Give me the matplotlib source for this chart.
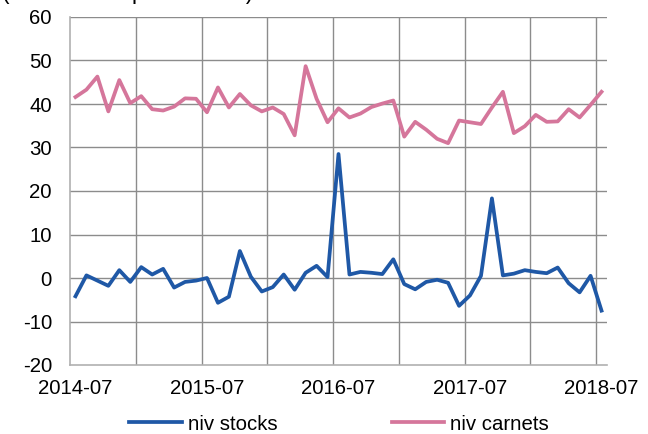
import matplotlib
matplotlib.use("Agg")
import matplotlib.pyplot as plt
import numpy as np

months = ["2014-07", "2014-08", "2014-09", "2014-10", "2014-11", "2014-12",
          "2015-01", "2015-02", "2015-03", "2015-04", "2015-05", "2015-06",
          "2015-07", "2015-08", "2015-09", "2015-10", "2015-11", "2015-12",
          "2016-01", "2016-02", "2016-03", "2016-04", "2016-05", "2016-06",
          "2016-07", "2016-08", "2016-09", "2016-10", "2016-11", "2016-12",
          "2017-01", "2017-02", "2017-03", "2017-04", "2017-05", "2017-06",
          "2017-07", "2017-08", "2017-09", "2017-10", "2017-11", "2017-12",
          "2018-01", "2018-02", "2018-03", "2018-04", "2018-05", "2018-06",
          "2018-07"]

niv_stocks = [-4.2, 0.6, -0.6, -1.8, 1.8, -0.9, 2.5, 0.8, 2.1, -2.2, -0.9, -0.6,
              0.0, -5.7, -4.3, 6.2, 0.3, -3.1, -2.1, 0.8, -2.7, 1.2, 2.8, 0.2,
              28.5, 0.8, 1.4, 1.2, 0.9, 4.3, -1.4, -2.6, -0.9, -0.4, -1.1, -6.4,
              -4.0, 0.5, 18.3, 0.6, 1.0, 1.8, 1.4, 1.1, 2.4, -1.2, -3.3, 0.5,
              -7.5]

niv_carnets = [41.6, 43.3, 46.3, 38.3, 45.5, 40.2, 41.8, 38.8, 38.5, 39.4, 41.3, 41.2,
               38.1, 43.8, 39.2, 42.3, 39.7, 38.3, 39.2, 37.7, 32.8, 48.7, 41.2, 35.8,
               39.0, 36.9, 37.8, 39.3, 40.1, 40.8, 32.5, 35.9, 34.1, 32.0, 31.0, 36.2,
               35.8, 35.4, 39.2, 42.8, 33.3, 34.9, 37.5, 35.9, 36.0, 38.8, 36.9, 39.8,
               42.8]

tick_labels = ["2014-07", "2015-07", "2016-07", "2017-07", "2018-07"]
y_ticks = [-20, -10, 0, 10, 20, 30, 40, 50, 60]

plt.rcParams['font.family'] = ['Liberation Sans', 'DejaVu Sans']

W, H = 648, 434
fig = plt.figure(figsize=(W / 100, H / 100), dpi=100)
ax = fig.add_axes([70 / W, (H - 365) / H, (607 - 70) / W, (365 - 17) / H])

x = np.arange(len(months))
blue = "#1F58A6"
pink = "#D5769B"
ax.plot(x, niv_stocks, color=blue, lw=2.7, label="niv stocks")
ax.plot(x, niv_carnets, color=pink, lw=2.7, label="niv carnets")

ax.set_xlim(-0.5, len(months) - 0.5)
ax.set_ylim(-20, 60)
ax.set_yticks(y_ticks)
ax.set_yticklabels([str(v) for v in y_ticks])
ax.set_xticks([months.index(t) for t in tick_labels])
ax.set_xticklabels(tick_labels)

ax.grid(False)
for xv in np.arange(5.5, len(months) - 0.5, 6):
    ax.axvline(xv, color="#8C8C8C", lw=1.0, zorder=0)
for yv in y_ticks[1:]:
    ax.axhline(yv, color="#8C8C8C", lw=1.0, zorder=0)

for s in ["top", "right"]:
    ax.spines[s].set_visible(False)
for s in ["left", "bottom"]:
    ax.spines[s].set_color("#B0B0B0")
    ax.spines[s].set_linewidth(1.2)

ax.tick_params(axis="both", which="both", length=0, labelsize=14.7, colors="black")
ax.tick_params(axis="y", pad=13)
ax.tick_params(axis="x", pad=10)

fig.text(2 / W, 1 + 0.5 / H, "(en solde d'opinion CVS)", fontsize=16.4,
         va="baseline", ha="left")

fig.legend(loc="center", bbox_to_anchor=(339 / W, (H - 424) / H), ncol=2,
           frameon=False, fontsize=14.7, handlelength=2.55, handletextpad=0.3,
           columnspacing=5.6, borderaxespad=0)

fig.savefig("out.png", dpi=100)
